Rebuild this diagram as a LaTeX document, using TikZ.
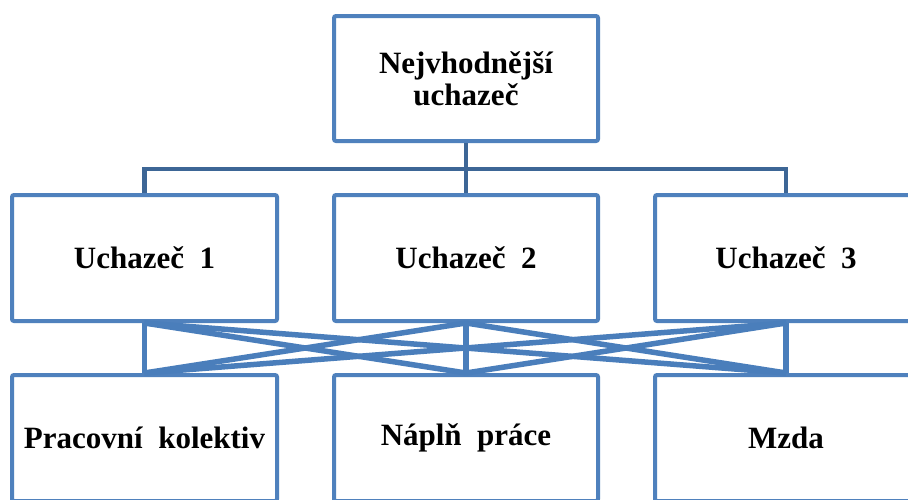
\documentclass[tikz,border=0pt]{standalone}
\usepackage{fontspec}
\setmainfont{Liberation Serif}
\usepackage{tikz}
\definecolor{boxblue}{HTML}{4F81BD}
\definecolor{linkdark}{HTML}{3D6696}
\definecolor{linkblue}{HTML}{4A7EBB}
\tikzset{
  choicebox/.style={draw=boxblue,fill=white,line width=4pt,rounded corners=2pt,
                    minimum width=265pt,minimum height=126pt,
                    align=center,inner sep=4pt,
                    font=\fontsize{31}{32}\selectfont\bfseries,
                    execute at begin node={\spaceskip=0.5em\relax}},
  treelink/.style={draw=linkdark,line width=4.5pt},
  crosslink/.style={draw=linkblue,line width=5.5pt}
}
\begin{document}
\begin{tikzpicture}[x=1pt,y=-1pt]
  \path[use as bounding box,clip] (0,0) rectangle (908,499);
  \fill[white] (0,0) rectangle (908,499);
  \node[choicebox,minimum width=264pt,minimum height=125pt] (best) at (466,78.5) {Nejvhodnější\\uchazeč};
  \node[choicebox] (cand1) at (144.5,258) {Uchazeč 1};
  \node[choicebox,minimum width=264pt] (cand2) at (466,258) {Uchazeč 2};
  \node[choicebox,minimum width=262pt] (cand3) at (786,258) {Uchazeč 3};
  \node[choicebox] (team) at (144.5,438) {Pracovní kolektiv};
  \node[choicebox,minimum width=264pt] (work) at (466,438) {Náplň práce};
  \node[choicebox,minimum width=262pt] (wage) at (786,438) {Mzda};
  \coordinate (split) at (466,169);
  \draw[treelink] (best.south) -- (split) -| (cand1.north);
  \draw[treelink] (split) -| (cand3.north);
  \draw[treelink] (split) -- (cand2.north);
  \draw[crosslink] (cand1.south) -- (team.north);
  \draw[crosslink] (cand1.south) -- (work.north);
  \draw[crosslink] (cand1.south) -- (wage.north);
  \draw[crosslink] (cand2.south) -- (team.north);
  \draw[crosslink] (cand2.south) -- (work.north);
  \draw[crosslink] (cand2.south) -- (wage.north);
  \draw[crosslink] (cand3.south) -- (team.north);
  \draw[crosslink] (cand3.south) -- (work.north);
  \draw[crosslink] (cand3.south) -- (wage.north);
\end{tikzpicture}
\end{document}
